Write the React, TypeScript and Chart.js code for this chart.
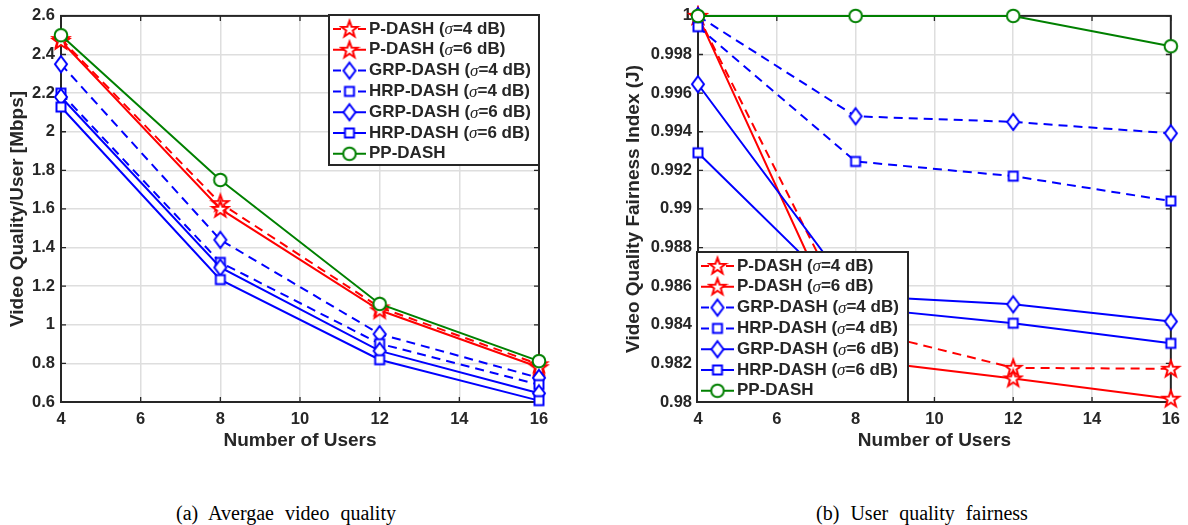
import React, { useEffect, useRef } from "react";
import { Chart, registerables } from "chart.js";
Chart.register(...registerables);

const FONT = "'Liberation Sans', Arial, Helvetica, sans-serif";
const TEXT = "#262626";

// ---------- data ----------
const users = [4, 8, 12, 16];
const xTicks = [4, 6, 8, 10, 12, 14, 16];
const qualityTicks = [0.6, 0.8, 1, 1.2, 1.4, 1.6, 1.8, 2, 2.2, 2.4, 2.6];
const fairnessTicks = [0.98, 0.982, 0.984, 0.986, 0.988, 0.99, 0.992, 0.994, 0.996, 0.998, 1];

const seriesLabels = [
  "P-DASH (σ=4 dB)",
  "P-DASH (σ=6 dB)",
  "GRP-DASH (σ=4 dB)",
  "HRP-DASH (σ=4 dB)",
  "GRP-DASH (σ=6 dB)",
  "HRP-DASH (σ=6 dB)",
  "PP-DASH",
];

// (a) average video quality [Mbps]
const qualityP4 = [2.48, 1.63, 1.09, 0.795];
const qualityP6 = [2.47, 1.6, 1.075, 0.78];
const qualityGRP4 = [2.35, 1.44, 0.952, 0.725];
const qualityHRP4 = [2.2, 1.323, 0.902, 0.69];
const qualityGRP6 = [2.18, 1.297, 0.865, 0.645];
const qualityHRP6 = [2.128, 1.234, 0.819, 0.607];
const qualityPP = [2.5, 1.75, 1.108, 0.812];

// (b) fairness index
const fairP4 = [1.0, 0.9838, 0.98177, 0.98172];
const fairP6 = [1.0, 0.9822, 0.98122, 0.98017];
const fairGRP4 = [1.0, 0.9948, 0.99451, 0.99392];
const fairHRP4 = [0.99944, 0.99246, 0.9917, 0.99041];
const fairGRP6 = [0.99646, 0.9855, 0.98506, 0.98417];
const fairHRP6 = [0.99291, 0.9849, 0.98408, 0.98304];
const fairPP = [1.0, 1.0, 1.0, 0.99843];

const seriesColors = ["#ff0000", "#ff0000", "#0000ff", "#0000ff", "#0000ff", "#0000ff", "#008000"];
const seriesDashed = [true, false, true, true, false, false, false];
const seriesMarkers = ["star", "star", "diamond", "square", "diamond", "square", "circle"];

function makeMarker(shape: string, color: string): HTMLCanvasElement {
  const c = document.createElement("canvas");
  const size = 22;
  c.width = size;
  c.height = size;
  const ctx = c.getContext("2d")!;
  const m = size / 2;
  ctx.beginPath();
  if (shape === "circle") {
    ctx.arc(m, m, 6.3, 0, Math.PI * 2);
  } else if (shape === "square") {
    ctx.rect(m - 4.5, m - 4.5, 9, 9);
  } else if (shape === "diamond") {
    ctx.moveTo(m, m - 8);
    ctx.lineTo(m + 6, m);
    ctx.lineTo(m, m + 8);
    ctx.lineTo(m - 6, m);
    ctx.closePath();
  } else {
    for (let i = 0; i < 10; i++) {
      const r = i % 2 === 0 ? 8.6 : 3.5;
      const ang = -Math.PI / 2 + (i * Math.PI) / 5;
      const px = m + r * Math.cos(ang);
      const py = m + 0.5 + r * Math.sin(ang);
      if (i === 0) ctx.moveTo(px, py);
      else ctx.lineTo(px, py);
    }
    ctx.closePath();
  }
  ctx.fillStyle = "#ffffff";
  ctx.fill();
  ctx.lineWidth = 2;
  ctx.lineJoin = "miter";
  ctx.strokeStyle = color;
  ctx.stroke();
  return c;
}

function fmt(v: any): string {
  return String(parseFloat(Number(v).toFixed(4)));
}

function drawLabel(ctx: CanvasRenderingContext2D, text: string, x: number, y: number) {
  const parts = text.split("σ");
  ctx.textAlign = "left";
  ctx.textBaseline = "middle";
  ctx.fillStyle = TEXT;
  let cx = x;
  parts.forEach((p, k) => {
    if (k > 0) {
      ctx.font = "italic 17px 'Liberation Serif', 'Times New Roman', serif";
      ctx.fillText("σ", cx, y + 1);
      cx += ctx.measureText("σ").width;
    }
    ctx.font = `bold 17px ${FONT}`;
    ctx.fillText(p, cx, y);
    cx += ctx.measureText(p).width;
  });
}

interface AxesCfg {
  xTitle: string;
  yTitle: string;
  xTitleY: number;
  yTitleX: number;
  yTicks: number[];
  legend: { left: number; top: number; width: number; height: number };
}

function makeAxesPlugin(cfg: AxesCfg) {
  return {
    id: "matlabAxes",
    beforeDatasetsDraw(chart: any) {
      const { ctx, chartArea: a, scales } = chart;
      ctx.save();
      ctx.strokeStyle = TEXT;
      ctx.lineWidth = 1.3;
      const tl = 5;
      ctx.beginPath();
      for (const v of xTicks) {
        const x = scales.x.getPixelForValue(v);
        ctx.moveTo(x, a.bottom);
        ctx.lineTo(x, a.bottom - tl);
        ctx.moveTo(x, a.top);
        ctx.lineTo(x, a.top + tl);
      }
      for (const v of cfg.yTicks) {
        const y = scales.y.getPixelForValue(v);
        ctx.moveTo(a.left, y);
        ctx.lineTo(a.left + tl, y);
        ctx.moveTo(a.right, y);
        ctx.lineTo(a.right - tl, y);
      }
      ctx.stroke();
      ctx.lineWidth = 2;
      ctx.strokeRect(a.left, a.top, a.right - a.left, a.bottom - a.top);
      ctx.fillStyle = TEXT;
      ctx.font = `bold 19px ${FONT}`;
      ctx.textAlign = "center";
      ctx.textBaseline = "middle";
      ctx.fillText(cfg.xTitle, (a.left + a.right) / 2, cfg.xTitleY);
      ctx.translate(cfg.yTitleX, (a.top + a.bottom) / 2);
      ctx.rotate(-Math.PI / 2);
      ctx.fillText(cfg.yTitle, 0, 0);
      ctx.restore();
    },
    afterDatasetsDraw(chart: any) {
      const { ctx } = chart;
      const L = cfg.legend;
      ctx.save();
      ctx.fillStyle = "#ffffff";
      ctx.fillRect(L.left, L.top, L.width, L.height);
      ctx.lineWidth = 2;
      ctx.strokeStyle = TEXT;
      ctx.strokeRect(L.left, L.top, L.width, L.height);
      const rowH = 20.8;
      chart.data.datasets.forEach((ds: any, i: number) => {
        const y = L.top + 14 + i * rowH;
        const x0 = L.left + 4;
        const x1 = L.left + 37;
        const xc = (x0 + x1) / 2;
        ctx.strokeStyle = ds.borderColor;
        ctx.lineWidth = 2;
        ctx.beginPath();
        if (ds.borderDash && ds.borderDash.length) {
          ctx.moveTo(x0, y);
          ctx.lineTo(x0 + 8, y);
          ctx.moveTo(x1 - 8, y);
          ctx.lineTo(x1, y);
        } else {
          ctx.moveTo(x0, y);
          ctx.lineTo(x1, y);
        }
        ctx.stroke();
        const img = ds.pointStyle as HTMLCanvasElement;
        ctx.drawImage(img, xc - img.width / 2, y - img.height / 2);
        drawLabel(ctx, ds.label, L.left + 40, y);
      });
      ctx.restore();
    },
  };
}

interface ChartSpec {
  series: number[][];
  yMin: number;
  yMax: number;
  yTicks: number[];
  yTitle: string;
  width: number;
  height: number;
  padding: { top: number; right: number };
  yAxisWidth: number;
  yTitleX: number;
  legend: { left: number; top: number; width: number; height: number };
}

function MatlabChart({ spec }: { spec: ChartSpec }) {
  const ref = useRef<HTMLCanvasElement>(null);
  useEffect(() => {
    const canvas = ref.current!;
    const datasets = spec.series.map((vals, i) => ({
      label: seriesLabels[i],
      data: users.map((u, j) => ({ x: u, y: vals[j] })),
      borderColor: seriesColors[i],
      backgroundColor: seriesColors[i],
      borderWidth: 2,
      borderDash: seriesDashed[i] ? [9, 6] : [],
      pointStyle: makeMarker(seriesMarkers[i], seriesColors[i]),
      pointRadius: 7,
      pointHoverRadius: 7,
      fill: false,
      tension: 0,
      clip: false,
      order: 10 - i,
    }));
    const chart = new Chart(canvas, {
      type: "line",
      data: { datasets } as any,
      options: {
        responsive: false,
        animation: false,
        events: [],
        layout: {
          autoPadding: false,
          padding: { top: spec.padding.top, right: spec.padding.right, left: 0, bottom: 0 },
        },
        plugins: { legend: { display: false }, tooltip: { enabled: false } },
        scales: {
          x: {
            type: "linear",
            min: 4,
            max: 16,
            afterBuildTicks: (s: any) => {
              s.ticks = xTicks.map((v) => ({ value: v }));
            },
            afterFit: (s: any) => {
              s.height = spec.height - (spec.height - 402);
              s.height = spec.height - 402;
            },
            grid: { color: "#dedede", lineWidth: 1.5, drawTicks: false },
            border: { display: false },
            ticks: {
              font: { size: 16.5, weight: "bold", family: FONT },
              color: TEXT,
              padding: 8,
              maxRotation: 0,
              autoSkip: false,
              callback: (v: any) => fmt(v),
            },
          },
          y: {
            type: "linear",
            min: spec.yMin,
            max: spec.yMax,
            afterBuildTicks: (s: any) => {
              s.ticks = spec.yTicks.map((v) => ({ value: v }));
            },
            afterFit: (s: any) => {
              s.width = spec.yAxisWidth;
            },
            grid: { color: "#dedede", lineWidth: 1.5, drawTicks: false },
            border: { display: false },
            ticks: {
              font: { size: 16.5, weight: "bold", family: FONT },
              color: TEXT,
              padding: 6,
              autoSkip: false,
              callback: (v: any) => fmt(v),
            },
          },
        },
      } as any,
      plugins: [
        makeAxesPlugin({
          xTitle: "Number of Users",
          yTitle: spec.yTitle,
          xTitleY: 441,
          yTitleX: spec.yTitleX,
          yTicks: spec.yTicks,
          legend: spec.legend,
        }) as any,
      ],
    });
    return () => chart.destroy();
  }, []);
  return (
    <canvas
      ref={ref}
      width={spec.width}
      height={spec.height}
      style={{ width: spec.width, height: spec.height, display: "block" }}
    />
  );
}

const leftSpec: ChartSpec = {
  series: [qualityP4, qualityP6, qualityGRP4, qualityHRP4, qualityGRP6, qualityHRP6, qualityPP],
  yMin: 0.6,
  yMax: 2.6,
  yTicks: qualityTicks,
  yTitle: "Video Quality/User [Mbps]",
  width: 594,
  height: 470,
  padding: { top: 15, right: 55 },
  yAxisWidth: 61,
  yTitleX: 18,
  legend: { left: 329, top: 15, width: 210, height: 150 },
};

const rightSpec: ChartSpec = {
  series: [fairP4, fairP6, fairGRP4, fairHRP4, fairGRP6, fairHRP6, fairPP],
  yMin: 0.98,
  yMax: 1,
  yTicks: fairnessTicks,
  yTitle: "Video Quality Fairness Index (J)",
  width: 594,
  height: 470,
  padding: { top: 9, right: 12 },
  yAxisWidth: 104,
  yTitleX: 40,
  legend: { left: 103, top: 252, width: 211, height: 150 },
};

const captionStyle: React.CSSProperties = {
  position: "absolute",
  top: 502,
  width: 400,
  textAlign: "center",
  fontFamily: "'Liberation Serif', 'Times New Roman', serif",
  fontSize: 20,
  lineHeight: "22px",
  wordSpacing: 6,
  color: "#000",
  whiteSpace: "nowrap",
};

export default function App() {
  return (
    <div style={{ position: "absolute", left: 0, top: 0, width: 1188, height: 525, background: "#fff", overflow: "hidden" }}>
      <div style={{ position: "absolute", left: 0, top: 0 }}>
        <MatlabChart spec={leftSpec} />
      </div>
      <div style={{ position: "absolute", left: 594, top: 0 }}>
        <MatlabChart spec={rightSpec} />
      </div>
      <div style={{ ...captionStyle, left: 286 - 200 }}>(a) Avergae video quality</div>
      <div style={{ ...captionStyle, left: 922 - 200 }}>(b) User quality fairness</div>
    </div>
  );
}
